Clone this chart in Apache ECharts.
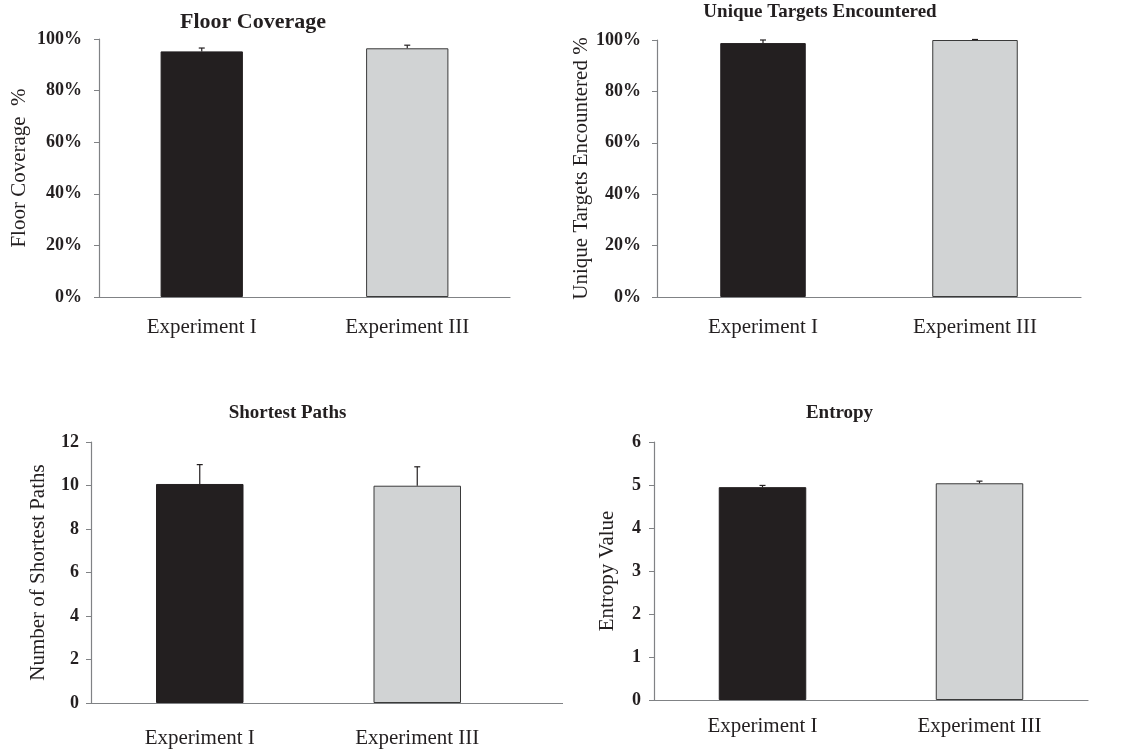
<!DOCTYPE html>
<html>
<head>
<meta charset="utf-8">
<script src="https://cdn.jsdelivr.net/npm/echarts@6/dist/echarts.min.js"></script>
<style>
html,body{margin:0;padding:0;background:#fff;}
#chart{width:1130px;height:753px;}
</style>
</head>
<body>
<div id="chart"></div>
<script>
// ---- data ----
const categories = ['Experiment I', 'Experiment III'];
const floorCoverage = [95.2, 96.4];
const floorCoverageErr = [1.3, 1.2];
const uniqueTargets = [98.8, 100];
const uniqueTargetsErr = [1.2, 0.2];
const shortestPaths = [10.07, 9.99];
const shortestPathsErr = [0.89, 0.87];
const entropy = [4.95, 5.04];
const entropyErr = [0.04, 0.05];
const panelTitles = ['Floor Coverage', 'Unique Targets Encountered', 'Shortest Paths', 'Entropy'];
const axisNames = ['Floor Coverage  %', 'Unique Targets Encountered %', 'Number of Shortest Paths', 'Entropy Value'];

// ---- layout / style ----
const FONT = '"Liberation Serif", "Times New Roman", serif';
const TXT = '#231f20';
const AXIS = '#808285';
const grids = [
  {left: 99, top: 39, width: 411, height: 258},
  {left: 657, top: 40, width: 424, height: 257},
  {left: 91, top: 442, width: 435, height: 261},
  {left: 654, top: 442, width: 434, height: 258}
];
const barWidths = [82.3, 85.5, 87.5, 87.5];
const catMargins = [20, 20, 25, 16];
const nameGaps = [69, 64, 42, 36];
const yLabelMargins = [17, 16, 12, 13];
const yCfg = [
  {min: 0, max: 100, interval: 20, fmt: '{value}%'},
  {min: 0, max: 100, interval: 20, fmt: '{value}%'},
  {min: 0, max: 12, interval: 2, fmt: '{value}'},
  {min: 0, max: 6, interval: 1, fmt: '{value}'}
];
const titlePos = [
  {x: 253, y: 11, size: 22},
  {x: 820, y: 3, size: 19},
  {x: 287.5, y: 403.5, size: 19},
  {x: 839.5, y: 403.5, size: 19}
];
const values = [floorCoverage, uniqueTargets, shortestPaths, entropy];
const errors = [floorCoverageErr, uniqueTargetsErr, shortestPathsErr, entropyErr];
const barColors = ['#231f20', '#d1d3d4'];
const barBorders = ['#231f20', '#3a3a3a'];

const chart = echarts.init(document.getElementById('chart'), null, {renderer: 'canvas'});

const option = {
  backgroundColor: '#ffffff',
  animation: false,
  title: titlePos.map((t, i) => ({
    text: panelTitles[i], left: t.x, top: t.y, textAlign: 'center', padding: 0,
    textStyle: {fontFamily: FONT, fontWeight: 'bold', fontSize: t.size, color: TXT}
  })),
  grid: grids.map(g => Object.assign({containLabel: false}, g)),
  xAxis: grids.map((g, i) => ({
    type: 'category', gridIndex: i, data: categories,
    axisLine: {show: true, lineStyle: {color: AXIS, width: 1.2}},
    axisTick: {show: false},
    axisLabel: {fontFamily: FONT, fontSize: 21, color: TXT, margin: catMargins[i]},
    splitLine: {show: false}
  })),
  yAxis: grids.map((g, i) => ({
    type: 'value', gridIndex: i, min: yCfg[i].min, max: yCfg[i].max, interval: yCfg[i].interval,
    name: axisNames[i], nameLocation: 'middle', nameGap: nameGaps[i],
    nameTextStyle: {fontFamily: FONT, fontSize: 21, color: TXT},
    axisLine: {show: true, lineStyle: {color: AXIS, width: 1.2}},
    axisTick: {show: true, length: 5, lineStyle: {color: AXIS}},
    axisLabel: {fontFamily: FONT, fontSize: 18, fontWeight: 'bold', color: TXT, formatter: yCfg[i].fmt, margin: yLabelMargins[i], padding: [5, 0, 0, 0]},
    splitLine: {show: false}
  })),
  series: []
};

values.forEach((vals, i) => {
  option.series.push({
    type: 'bar', xAxisIndex: i, yAxisIndex: i, barWidth: barWidths[i],
    data: vals.map((v, k) => ({
      value: v,
      itemStyle: {color: barColors[k], borderColor: barBorders[k], borderWidth: 1}
    })),
    z: 2
  });
  option.series.push({
    type: 'custom', xAxisIndex: i, yAxisIndex: i, clip: false, z: 3,
    data: vals.map((v, k) => [k, v, v + errors[i][k]]),
    encode: {x: 0, y: [1, 2]},
    renderItem: function (params, api) {
      const x = api.value(0);
      const lo = api.coord([x, api.value(1)]);
      const hi = api.coord([x, api.value(2)]);
      const hw = 3;
      return {
        type: 'group',
        children: [
          {type: 'line', shape: {x1: lo[0], y1: lo[1], x2: hi[0], y2: hi[1]}, style: {stroke: '#231f20', lineWidth: 1.2}},
          {type: 'line', shape: {x1: hi[0] - hw, y1: hi[1], x2: hi[0] + hw, y2: hi[1]}, style: {stroke: '#231f20', lineWidth: 1.2}}
        ]
      };
    }
  });
});

// lower-left panel's baseline runs a little past its category band (as in the original)
const g3 = grids[2];
option.graphic = [{
  type: 'line', silent: true, z: 1,
  shape: {x1: g3.left, y1: g3.top + g3.height + 0.5, x2: 563, y2: g3.top + g3.height + 0.5},
  style: {stroke: AXIS, lineWidth: 1.2}
}];

chart.setOption(option);
</script>
</body>
</html>
